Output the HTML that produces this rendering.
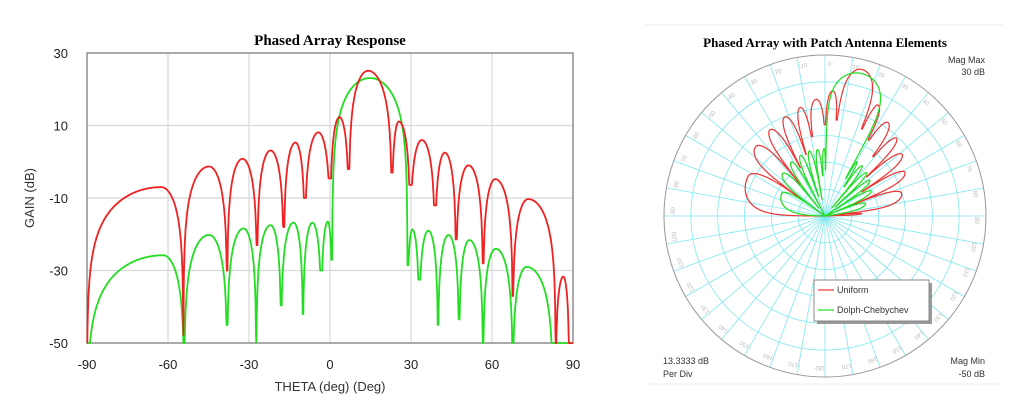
<!DOCTYPE html>
<html><head><meta charset="utf-8"><style>
body{margin:0;background:#fff;width:1024px;height:420px;overflow:hidden}
svg{display:block}
</style></head><body>
<svg id="s" width="1024" height="420" xmlns="http://www.w3.org/2000/svg" font-family="Liberation Sans, sans-serif">
<rect width="1024" height="420" fill="#fff"/>
<line x1="645" y1="25" x2="1003" y2="25" stroke="#eee"/>
<line x1="645" y1="384" x2="1003" y2="384" stroke="#eee"/>
<text x="330" y="45" text-anchor="middle" font-family="Liberation Serif, serif" font-weight="bold" font-size="15">Phased Array Response</text>
<text x="825" y="47" text-anchor="middle" font-family="Liberation Serif, serif" font-weight="bold" font-size="13">Phased Array with Patch Antenna Elements</text>
<g id="left"></g>
<g id="polar"></g>
<text x="985" y="63" text-anchor="end" font-size="9" fill="#333">Mag Max</text>
<text x="985" y="75" text-anchor="end" font-size="9" fill="#333">30 dB</text>
<text x="663" y="364" font-size="9" fill="#333">13.3333 dB</text>
<text x="663" y="377" font-size="9" fill="#333">Per Div</text>
<text x="985" y="364" text-anchor="end" font-size="9" fill="#333">Mag Min</text>
<text x="985" y="377" text-anchor="end" font-size="9" fill="#333">-50 dB</text>
</svg>
<script>
const NS="http://www.w3.org/2000/svg";
function el(p,t,a,txt){const e=document.createElementNS(NS,t);for(const k in a)e.setAttribute(k,a[k]);if(txt!==undefined)e.textContent=txt;p.appendChild(e);return e;}
const red=[[-90,-50],[-62.5,-7],[-54.3,-48],[-44.8,-1.3],[-38.1,-30],[-32.4,0.8],[-27,-23],[-22,3.1],[-17.1,-18],[-12.8,5.3],[-9.3,-10],[-4.3,8.1],[0.1,-4.6],[3.5,12.3],[7,-2],[14.1,25.1],[22.9,-3],[25.5,11.1],[29.7,-6.4],[34,6],[38.9,-12],[42.5,2.5],[46.7,-21.4],[51.3,-1],[56.7,-28],[61.2,-4.8],[67.7,-37],[73.4,-10.3],[83.6,-50],[86.4,-31.7],[88.6,-50],[90,-50]];
const green=[[-90,-50],[-61.8,-25.8],[-54,-50],[-44.8,-20.2],[-38.1,-45],[-32,-18.4],[-27.3,-50],[-22,-17.5],[-18.1,-39.6],[-13.5,-16.8],[-10,-42],[-6.5,-16.8],[-3.2,-30],[-0.8,-16.5],[0.8,-27],[14.8,23.1],[28.7,-28.5],[30.5,-18.7],[33,-32.5],[36.4,-19],[40,-45],[43.9,-20.2],[47.8,-43.5],[51.6,-21.6],[56.7,-50],[61.4,-24],[67.7,-50],[72.8,-29],[82.6,-50],[90,-50],[91,-50]];
function evalK(K,th){
 // knots alternate null (even idx), peak (odd idx)
 for(let i=0;i<K.length-1;i++){const a=K[i],b=K[i+1];if(th>=a[0]&&th<=b[0]){
  if(i%2===0&&i+1<K.length){ // null->peak rising
   if(b[1]<=a[1])return -50;
   const t=(th-a[0])/(b[0]-a[0])*Math.PI/2;return Math.max(a[1],b[1]+20*Math.log10(Math.max(Math.sin(t),1e-9)));}
  else{const t=(b[0]-th)/(b[0]-a[0])*Math.PI/2;if(a[1]<=b[1])return -50;return Math.max(b[1],a[1]+20*Math.log10(Math.max(Math.sin(t),1e-9)));}
 }}return -50;}
const pts=[];for(let th=-90;th<=90.0001;th+=0.1)pts.push([th,evalK(red,th),evalK(green,th)]);
const L=document.getElementById('left');const X0=87,X1=573,Y0=53,Y1=343;
const fx=t=>X0+(t+90)/180*(X1-X0),fy=g=>Y0+(30-g)/80*(Y1-Y0);
for(let t=-90;t<=90;t+=30){el(L,'line',{x1:fx(t),x2:fx(t),y1:Y0,y2:Y1,stroke:'#d8d8d8','stroke-width':1.2});el(L,'text',{x:fx(t),y:369,'text-anchor':'middle','font-size':13,fill:'#222'},t);}
for(let g=-50;g<=30;g+=20){el(L,'line',{x1:X0,x2:X1,y1:fy(g),y2:fy(g),stroke:'#d8d8d8','stroke-width':1.2});el(L,'text',{x:68,y:fy(g)+5,'text-anchor':'end','font-size':13,fill:'#222'},g);}
el(L,'rect',{x:X0,y:Y0,width:X1-X0,height:Y1-Y0,fill:'none',stroke:'#777','stroke-width':1.2});
el(L,'text',{x:330,y:391,'text-anchor':'middle','font-size':13,fill:'#333'},'THETA (deg) (Deg)');
el(L,'text',{x:0,y:0,'text-anchor':'middle','font-size':13,fill:'#333',transform:'translate(34,198) rotate(-90)'},'GAIN (dB)');
function lp(i,col){let d='';pts.forEach((p,k)=>{const g=Math.max(-50,Math.min(30,p[i]));d+=(k?'L':'M')+fx(p[0]).toFixed(1)+','+fy(g).toFixed(1);});el(L,'path',{d,fill:'none',stroke:col,'stroke-width':1.8});}
lp(2,'#22dd22');lp(1,'#ee2222');
const P=document.getElementById('polar');const cx=825,cy=216,RR=161;
for(let i=1;i<=5;i++)el(P,'circle',{cx,cy,r:RR*i/6,fill:'none',stroke:'#7ee8f0','stroke-width':0.8});
for(let a=0;a<360;a+=10){const r=a*Math.PI/180;el(P,'line',{x1:cx,y1:cy,x2:cx+RR*Math.sin(r),y2:cy-RR*Math.cos(r),stroke:'#7ee8f0','stroke-width':0.8});
 const lab=a<=180?a:a-360;const rx=cx+(RR-9)*Math.sin(r+0.03),ry=cy-(RR-9)*Math.cos(r+0.03);
 el(P,'text',{x:rx,y:ry+2,'text-anchor':'middle','font-size':6,fill:'#bbb',transform:`rotate(${a} ${rx} ${ry})`},lab);}
el(P,'circle',{cx,cy,r:RR,fill:'none',stroke:'#999','stroke-width':1});
function pp(i,col){let d='';pts.forEach((p,k)=>{const g=Math.max(-50,Math.min(30,p[i]));const r=(g+50)/80*RR;const t=p[0]*Math.PI/180;d+=(k?'L':'M')+(cx+r*Math.sin(t)).toFixed(1)+','+(cy-r*Math.cos(t)).toFixed(1);});el(P,'path',{d,fill:'none',stroke:col,'stroke-width':1.2});}
pp(1,'#ee3333');pp(2,'#22dd22');
el(P,'rect',{x:817,y:283,width:115,height:41,fill:'#999'});
el(P,'rect',{x:814,y:280,width:115,height:41,fill:'#fff',stroke:'#888'});
el(P,'line',{x1:818,x2:834,y1:290,y2:290,stroke:'#ee3333','stroke-width':1.2});
el(P,'text',{x:837,y:293,'font-size':9,fill:'#333'},'Uniform');
el(P,'line',{x1:818,x2:834,y1:310,y2:310,stroke:'#22dd22','stroke-width':1.2});
el(P,'text',{x:837,y:313,'font-size':9,fill:'#333'},'Dolph-Chebychev');
</script>
</body></html>
